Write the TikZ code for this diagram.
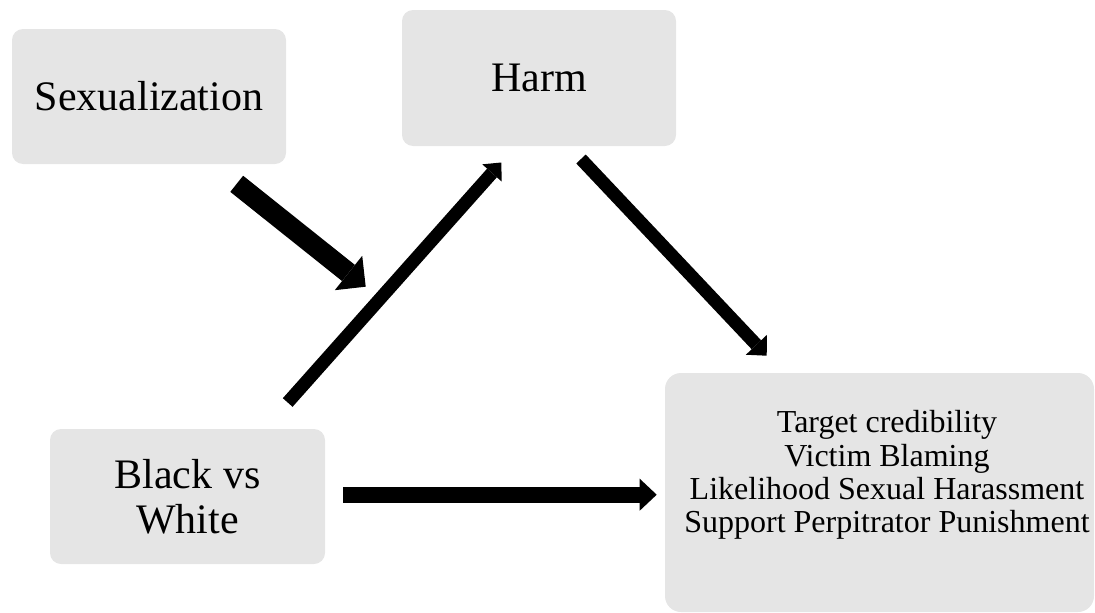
\documentclass[tikz,border=0pt]{standalone}
\usepackage{fontspec}
\setmainfont{Liberation Serif}
\usetikzlibrary{arrows.meta}
\definecolor{boxgray}{RGB}{229,229,229}
\tikzset{
  box/.style={fill=boxgray, draw=none, rounded corners=11pt, inner sep=0pt, align=center},
  bigtext/.style={font=\fontsize{42}{45}\selectfont},
  smalltext/.style={font=\fontsize{32}{33.3}\selectfont, align=center, inner sep=0pt},
  blockarrow/.style={draw=black, line cap=butt}
}
\begin{document}
\begin{tikzpicture}[x=1pt,y=-1pt]
\useasboundingbox (0,0) rectangle (1095,613);

% boxes
\node[box, bigtext, minimum width=274pt, minimum height=135pt] (sex) at (149,96.5) {Sexualization};
\node[box, bigtext, minimum width=274pt, minimum height=136pt] (harm) at (539,78) {Harm};
\node[box, bigtext, minimum width=275pt, minimum height=135pt] (bw) at (187.5,496.5) {Black vs\\White};
\node[box, rounded corners=16pt, minimum width=429pt, minimum height=239pt] (out) at (879.5,492.5) {};
\node[smalltext] (outtext) at (887,475) {Target credibility\\Victim Blaming\\Likelihood Sexual Harassment\\Support Perpitrator Punishment};

% arrow end points
\coordinate (sxTail) at (236.7,183.8);
\coordinate (sxTip) at (365.7,286.7);
\coordinate (bhTail) at (287.7,402.5);
\coordinate (bhTip) at (501.3,162.5);
\coordinate (hoTail) at (581,159);
\coordinate (hoTip) at (766.7,355.7);
\coordinate (boTail) at (343,494.7);
\coordinate (boTip) at (656.7,494.7);

% arrows
\draw[blockarrow, line width=20.6pt, -{Triangle[length=22pt,width=44pt,line width=0pt]}] (sxTail) -- (sxTip);
\draw[blockarrow, line width=13pt, -{Triangle[length=14pt,width=26pt,line width=0pt]}] (bhTail) -- (bhTip);
\draw[blockarrow, line width=13pt, -{Triangle[length=15pt,width=29pt,line width=0pt]}] (hoTail) -- (hoTip);
\draw[blockarrow, line width=16pt, -{Triangle[length=17pt,width=32pt,line width=0pt]}] (boTail) -- (boTip);
\end{tikzpicture}
\end{document}
